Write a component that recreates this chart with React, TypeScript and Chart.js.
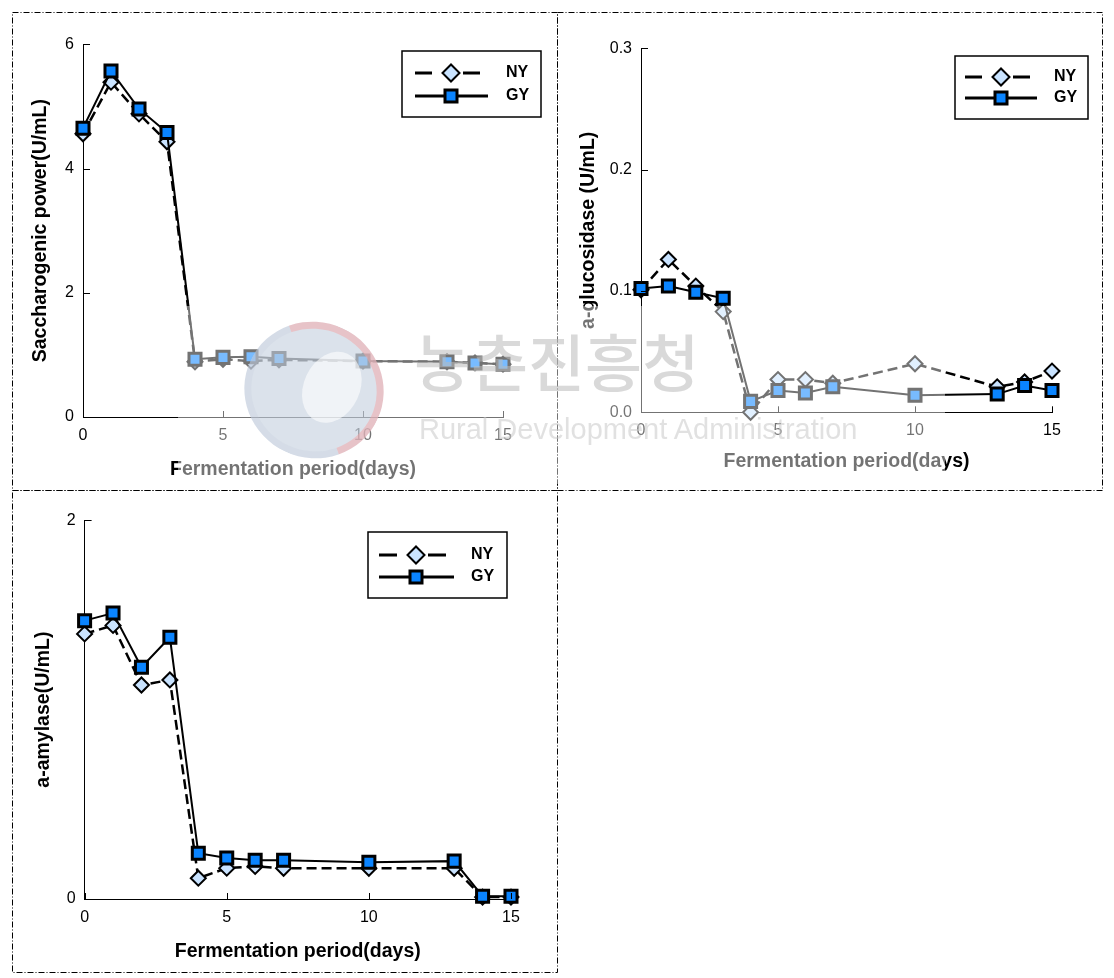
import React, { useEffect, useRef } from 'react';
import { Chart, registerables } from 'chart.js';

Chart.register(...registerables);

// ---------------- data ----------------
const days = [0, 1, 2, 3, 4, 5, 6, 7, 10, 13, 14, 15];
const seriesLabels = ['NY', 'GY'];

const saccharNY = [4.56, 5.39, 4.88, 4.43, 0.89, 0.93, 0.9, 0.92, 0.9, 0.89, 0.87, 0.85];
const saccharGY = [4.65, 5.57, 4.96, 4.58, 0.93, 0.96, 0.97, 0.94, 0.9, 0.89, 0.87, 0.85];

const glucoNY = [0.101, 0.126, 0.104, 0.083, 0.0, 0.027, 0.027, 0.024, 0.04, 0.021, 0.025, 0.034];
const glucoGY = [0.102, 0.104, 0.099, 0.094, 0.009, 0.018, 0.016, 0.021, 0.014, 0.015, 0.022, 0.018];

const amylaseNY = [1.4, 1.445, 1.13, 1.157, 0.11, 0.163, 0.172, 0.162, 0.162, 0.162, 0.01, 0.01];
const amylaseGY = [1.47, 1.51, 1.224, 1.382, 0.242, 0.216, 0.205, 0.205, 0.194, 0.2, 0.015, 0.015];

const xTickValues = [0, 5, 10, 15];
const saccharTicks = [0, 2, 4, 6];
const glucoTicks = [0, 0.1, 0.2, 0.3];
const amylaseTicks = [0, 2];

const xTitle = 'Fermentation period(days)';
const saccharTitle = 'Saccharogenic power(U/mL)';
const glucoTitle = 'a-glucosidase (U/mL)';
const amylaseTitle = 'a-amylase(U/mL)';

const watermarkKo = '농촌진흥청';
const watermarkEn = 'Rural Development Administration';

// ---------------- styling ----------------
const FONT = '"Liberation Sans", Arial, Helvetica, sans-serif';
const NY_FILL = '#C9E3FF';
const GY_FILL = '#0A84FF';

type LegendCfg = {
  x: number; y: number; w: number; h: number; r1: number; r2: number;
  ls: number; mk: number; nyEnd: number; gyEnd: number; tx: number;
};

type PanelCfg = {
  left: number; top: number; width: number; height: number;
  ny: number[]; gy: number[]; yTicks: number[]; yMax: number; yTitle: string; decimals: number;
  area: { l: number; t: number; r: number; b: number };
  yTitleOffset: number; xTitlePad: number;
  legend: LegendCfg;
};

const panels: PanelCfg[] = [
  {
    left: 12, top: 12, width: 546, height: 479,
    ny: saccharNY, gy: saccharGY, yTicks: saccharTicks, yMax: 6, yTitle: saccharTitle, decimals: 0,
    area: { l: 71, t: 32.3, r: 491, b: 405 },
    yTitleOffset: 16.5, xTitlePad: 9.8,
    legend: { x: 390, y: 39, w: 139, h: 66, r1: 22, r2: 45, ls: 13, mk: 49, nyEnd: 78, gyEnd: 86, tx: 104 },
  },
  {
    left: 557, top: 12, width: 546, height: 479,
    ny: glucoNY, gy: glucoGY, yTicks: glucoTicks, yMax: 0.3, yTitle: glucoTitle, decimals: 1,
    area: { l: 84, t: 36.3, r: 495, b: 400.3 },
    yTitleOffset: 20.3, xTitlePad: 17.7,
    legend: { x: 398, y: 44, w: 133, h: 63, r1: 21, r2: 42, ls: 10, mk: 46, nyEnd: 75, gyEnd: 82, tx: 99 },
  },
  {
    left: 12, top: 490, width: 546, height: 483,
    ny: amylaseNY, gy: amylaseGY, yTicks: amylaseTicks, yMax: 2, yTitle: amylaseTitle, decimals: 0,
    area: { l: 72.6, t: 30.3, r: 499, b: 409 },
    yTitleOffset: 19.5, xTitlePad: 9.3,
    legend: { x: 356, y: 42, w: 139, h: 66, r1: 23, r2: 45, ls: 11, mk: 48, nyEnd: 78, gyEnd: 86, tx: 103 },
  },
];

function drawDiamond(ctx: CanvasRenderingContext2D, x: number, y: number, r: number) {
  ctx.beginPath();
  ctx.moveTo(x - r, y);
  ctx.lineTo(x, y - r);
  ctx.lineTo(x + r, y);
  ctx.lineTo(x, y + r);
  ctx.closePath();
  ctx.fillStyle = NY_FILL;
  ctx.fill();
  ctx.lineWidth = 2;
  ctx.strokeStyle = '#000';
  ctx.stroke();
}

function drawSquare(ctx: CanvasRenderingContext2D, x: number, y: number, h: number) {
  ctx.beginPath();
  ctx.rect(x - h, y - h, 2 * h, 2 * h);
  ctx.fillStyle = GY_FILL;
  ctx.fill();
  ctx.lineWidth = 3;
  ctx.strokeStyle = '#000';
  ctx.stroke();
}

const panelDeco = {
  id: 'panelDeco',
  afterDraw(chart: any, _args: any, opts: any) {
    const ctx: CanvasRenderingContext2D = chart.ctx;
    const { left, bottom } = chart.chartArea;
    const xs = chart.scales.x;
    const ys = chart.scales.y;
    ctx.save();
    // inward tick marks
    ctx.strokeStyle = '#000';
    ctx.lineWidth = 1;
    ctx.beginPath();
    xs.ticks.forEach((t: any) => {
      const px = Math.round(xs.getPixelForValue(t.value)) + 0.5;
      ctx.moveTo(px, bottom);
      ctx.lineTo(px, bottom - 6);
    });
    ys.ticks.forEach((t: any) => {
      const py = Math.round(ys.getPixelForValue(t.value)) + 0.5;
      ctx.moveTo(left, py);
      ctx.lineTo(left + 7, py);
    });
    ctx.stroke();

    // dash-dot panel frame
    ctx.setLineDash([6, 2, 1, 2]);
    ctx.strokeRect(0.5, 0.5, chart.width - 1, chart.height - 1);
    ctx.setLineDash([]);

    // legend
    const lg: LegendCfg = opts.legend;
    if (lg) {
      ctx.fillStyle = '#fff';
      ctx.fillRect(lg.x, lg.y, lg.w, lg.h);
      ctx.lineWidth = 1.5;
      ctx.strokeStyle = '#000';
      ctx.strokeRect(lg.x, lg.y, lg.w, lg.h);
      const y1 = lg.y + lg.r1;
      const y2 = lg.y + lg.r2;
      const sx = lg.x + lg.ls;
      const mx = lg.x + lg.mk;
      ctx.lineWidth = 3;
      ctx.beginPath();
      ctx.moveTo(sx, y1);
      ctx.lineTo(mx - 19, y1);
      ctx.moveTo(mx + 12, y1);
      ctx.lineTo(lg.x + lg.nyEnd, y1);
      ctx.stroke();
      drawDiamond(ctx, mx, y1, 8.5);
      ctx.lineWidth = 3;
      ctx.beginPath();
      ctx.moveTo(sx, y2);
      ctx.lineTo(lg.x + lg.gyEnd, y2);
      ctx.stroke();
      drawSquare(ctx, mx, y2, 6);
      ctx.fillStyle = '#000';
      ctx.font = `bold 16px ${FONT}`;
      ctx.textBaseline = 'middle';
      ctx.textAlign = 'left';
      ctx.fillText(seriesLabels[0], lg.x + lg.tx, y1);
      ctx.fillText(seriesLabels[1], lg.x + lg.tx, y2);
    }
    ctx.restore();
  },
};

function Panel({ cfg }: { cfg: PanelCfg }) {
  const ref = useRef<HTMLCanvasElement>(null);
  useEffect(() => {
    if (!ref.current) return;
    const { area, width, height } = cfg;
    const chart = new Chart(ref.current, {
      type: 'line',
      data: {
        datasets: [
          {
            label: seriesLabels[0],
            data: days.map((d, i) => ({ x: d, y: cfg.ny[i] })),
            borderColor: '#000',
            borderWidth: 2.5,
            borderDash: [10, 5],
            pointStyle: 'rectRot',
            pointRadius: 7.5,
            pointBackgroundColor: NY_FILL,
            pointBorderColor: '#000',
            pointBorderWidth: 2,
            order: 1,
            clip: false,
            tension: 0,
          },
          {
            label: seriesLabels[1],
            data: days.map((d, i) => ({ x: d, y: cfg.gy[i] })),
            borderColor: '#000',
            borderWidth: 2,
            pointStyle: 'rect',
            pointRadius: 8.5,
            pointBackgroundColor: GY_FILL,
            pointBorderColor: '#000',
            pointBorderWidth: 3,
            order: 0,
            clip: false,
            tension: 0,
          },
        ] as any,
      },
      options: {
        responsive: false,
        animation: false,
        devicePixelRatio: 1,
        layout: { padding: { left: 0, top: area.t, right: width - area.r, bottom: 0 } },
        plugins: {
          legend: { display: false },
          tooltip: { enabled: false },
          panelDeco: { legend: cfg.legend },
        } as any,
        scales: {
          x: {
            type: 'linear',
            min: 0,
            max: 15,
            afterBuildTicks: (s: any) => {
              s.ticks = xTickValues.map((v) => ({ value: v }));
            },
            ticks: {
              font: { family: FONT, size: 16 },
              color: '#000',
              padding: 9,
              maxRotation: 0,
              autoSkip: false,
              callback: (v: any) => String(v),
            },
            grid: { display: false, drawTicks: false },
            border: { color: '#000', width: 1 },
            title: {
              display: true,
              text: xTitle,
              color: '#000',
              font: { family: FONT, size: 19.5, weight: 'bold' },
              padding: { top: 0, bottom: cfg.xTitlePad },
            },
            afterFit: (s: any) => {
              s.height = height - area.b;
            },
          },
          y: {
            type: 'linear',
            min: 0,
            max: cfg.yMax,
            afterBuildTicks: (s: any) => {
              s.ticks = cfg.yTicks.map((v) => ({ value: v }));
            },
            ticks: {
              font: { family: FONT, size: 16 },
              color: '#000',
              padding: 9,
              autoSkip: false,
              callback: (v: any) => Number(v).toFixed(cfg.decimals),
            },
            grid: { display: false, drawTicks: false },
            border: { color: '#000', width: 1 },
            title: {
              display: true,
              text: cfg.yTitle,
              color: '#000',
              font: { family: FONT, size: 19.5, weight: 'bold' },
              padding: { top: cfg.yTitleOffset, bottom: 0 },
            },
            afterFit: (s: any) => {
              s.width = area.l;
            },
          },
        } as any,
      },
      plugins: [panelDeco as any],
    });
    return () => chart.destroy();
  }, [cfg]);
  return (
    <canvas
      ref={ref}
      width={cfg.width}
      height={cfg.height}
      style={{ position: 'absolute', left: cfg.left, top: cfg.top, width: cfg.width, height: cfg.height }}
    />
  );
}

function Watermark() {
  return (
    <div style={{ position: 'absolute', left: 0, top: 0, width: 1114, height: 978, pointerEvents: 'none' }}>
      <div
        style={{
          position: 'absolute', left: 178, top: 306, width: 767, height: 178,
          background: 'rgba(255,255,255,0.45)',
        }}
      />
      <div
        style={{
          position: 'absolute', left: 244, top: 322, width: 140, height: 136, borderRadius: '50%',
          boxSizing: 'border-box', background: 'rgba(190,202,218,0.55)',
          border: '7px solid rgba(190,202,218,0.2)',
          borderTopColor: 'rgba(244,165,165,0.5)', borderRightColor: 'rgba(244,165,165,0.5)',
          transform: 'rotate(25deg)',
        }}
      >
        <div
          style={{
            position: 'absolute', left: 50, top: 14, width: 56, height: 74, borderRadius: '50%',
            background: 'rgba(255,255,255,0.6)',
          }}
        />
      </div>
      <div
        style={{
          position: 'absolute', left: 414, top: 324, fontFamily: '"Noto Sans CJK KR", sans-serif',
          fontSize: 62, lineHeight: '72px', fontWeight: 500, color: 'rgba(185,185,185,0.55)', whiteSpace: 'nowrap',
        }}
      >
        {watermarkKo}
      </div>
      <div
        style={{
          position: 'absolute', left: 419, top: 412, fontFamily: FONT,
          fontSize: 29, lineHeight: '35px', color: 'rgba(200,200,200,0.55)', whiteSpace: 'nowrap',
        }}
      >
        {watermarkEn}
      </div>
    </div>
  );
}

export default function App() {
  return (
    <div style={{ position: 'absolute', left: 0, top: 0, width: 1114, height: 978, background: '#fff' }}>
      {panels.map((p, i) => (
        <Panel key={i} cfg={p} />
      ))}
      <Watermark />
    </div>
  );
}
